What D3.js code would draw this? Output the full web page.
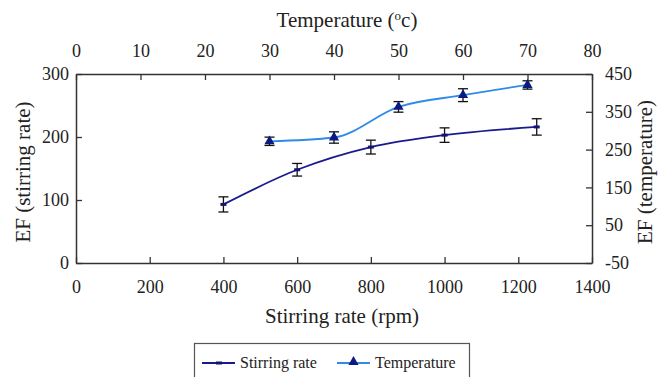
<!DOCTYPE html>
<html><head><meta charset="utf-8">
<script src="https://cdn.jsdelivr.net/npm/d3@7"></script>
<style>body{margin:0;background:#fff}svg{display:block}</style>
</head><body><svg id="c" width="661" height="377"></svg>
<script>
const stirRate = [400, 600, 800, 1000, 1250];
const stirEF = [93, 148, 184, 203, 216];
const stirErr = [12, 10, 11, 11.5, 13];
const temps = [30, 40, 50, 60, 70];
const tempEF = [272, 282, 363, 394, 421];
const tempErr = [11, 15, 14, 17, 11];
const bottomTicks = [0,200,400,600,800,1000,1200,1400];
const topTicks = [0,10,20,30,40,50,60,70,80];
const leftTicks = [0,100,200,300];
const rightTicks = [-50,50,150,250,350,450];

const FONT = "'Liberation Serif','Times New Roman','DejaVu Serif',serif";
const svg = d3.select("#c");
const L=76, R=592, T=74, B=263;
const x = d3.scaleLinear().domain([0,1400]).range([L,R]);
const xt = d3.scaleLinear().domain([0,80]).range([L,R]);
const y = d3.scaleLinear().domain([0,300]).range([B,T]);
const yr = d3.scaleLinear().domain([-50,450]).range([B,T]);
const fmt = d => String(d);

function styleAxis(g){
  g.attr("font-family", FONT).attr("font-size", 18);
  g.select(".domain").attr("stroke","#333").attr("stroke-width",1.5);
  g.selectAll(".tick line").attr("stroke","#333").attr("stroke-width",1.3);
  g.selectAll(".tick text").attr("font-family",FONT).attr("font-size",18).attr("fill","#222");
}
svg.append("g").attr("transform",`translate(0,${B})`)
  .call(d3.axisBottom(x).tickValues(bottomTicks).tickFormat(fmt).tickSizeInner(-6).tickSizeOuter(0).tickPadding(17)).call(styleAxis);
svg.append("g").attr("transform",`translate(0,${T})`)
  .call(d3.axisTop(xt).tickValues(topTicks).tickFormat(fmt).tickSizeInner(-6).tickSizeOuter(0).tickPadding(17)).call(styleAxis);
svg.append("g").attr("transform",`translate(${L},0)`)
  .call(d3.axisLeft(y).tickValues(leftTicks).tickFormat(fmt).tickSizeInner(-6).tickSizeOuter(0).tickPadding(7)).call(styleAxis);
svg.append("g").attr("transform",`translate(${R},0)`)
  .call(d3.axisRight(yr).tickValues(rightTicks).tickFormat(fmt).tickSizeInner(-6).tickSizeOuter(0).tickPadding(13)).call(styleAxis);

const stirData = stirRate.map((r,i)=>({x:x(r), y:y(stirEF[i])}));
const tempData = temps.map((t,i)=>({x:xt(t), y:yr(tempEF[i])}));
const line = d3.line().x(d=>d.x).y(d=>d.y).curve(d3.curveMonotoneX);
svg.append("path").attr("d",line(tempData)).attr("fill","none").attr("stroke","#2f8ae8").attr("stroke-width",1.8);
svg.append("path").attr("d",line(stirData)).attr("fill","none").attr("stroke","#1a1a8f").attr("stroke-width",1.8);

function errBars(data, vals, errs, sc){
  const g = svg.append("g").attr("stroke","#111").attr("stroke-width",1.3);
  data.forEach((d,i)=>{
    const y1 = sc(vals[i]+errs[i]), y2 = sc(vals[i]-errs[i]);
    g.append("line").attr("x1",d.x).attr("x2",d.x).attr("y1",y1).attr("y2",y2);
    g.append("line").attr("x1",d.x-5).attr("x2",d.x+5).attr("y1",y1).attr("y2",y1);
    g.append("line").attr("x1",d.x-5).attr("x2",d.x+5).attr("y1",y2).attr("y2",y2);
  });
}
errBars(stirData, stirEF, stirErr, y);
errBars(tempData, tempEF, tempErr, yr);

svg.append("g").selectAll("rect").data(stirData).join("rect")
  .attr("x",d=>d.x-3).attr("y",d=>d.y-1.5).attr("width",6).attr("height",3).attr("fill","#14146e");
const tri = d3.symbol().type(d3.symbolTriangle).size(45);
svg.append("g").selectAll("path").data(tempData).join("path")
  .attr("transform",d=>`translate(${d.x},${d.y})`).attr("d",tri).attr("fill","#0b1a80");

function txt(){ return svg.append("text").attr("font-family",FONT).attr("fill","#222"); }
const tt = txt().attr("x",347).attr("y",27).attr("text-anchor","middle").attr("font-size",21);
tt.append("tspan").text("Temperature (");
tt.append("tspan").text("o").attr("font-size",13).attr("dy",-7);
tt.append("tspan").text("c)").attr("dy",7);
txt().attr("x",342).attr("y",323).attr("text-anchor","middle").attr("font-size",21).text("Stirring rate (rpm)");
txt().attr("transform","translate(30,172) rotate(-90)").attr("text-anchor","middle").attr("font-size",21).text("EF (stirring rate)");
txt().attr("transform","translate(652,172) rotate(-90)").attr("text-anchor","middle").attr("font-size",21).text("EF (temperature)");

svg.append("rect").attr("x",194.5).attr("y",343.5).attr("width",275).attr("height",40).attr("fill","none").attr("stroke","#555").attr("stroke-width",1.2);
svg.append("line").attr("x1",202).attr("x2",235).attr("y1",363).attr("y2",363).attr("stroke","#1a1a8f").attr("stroke-width",1.8);
svg.append("rect").attr("x",216).attr("y",361.5).attr("width",6).attr("height",3).attr("fill","#14146e");
txt().attr("x",240).attr("y",368).attr("font-size",16).text("Stirring rate");
svg.append("line").attr("x1",337).attr("x2",370).attr("y1",363).attr("y2",363).attr("stroke","#2f8ae8").attr("stroke-width",1.8);
svg.append("path").attr("transform","translate(353.5,362)").attr("d",tri).attr("fill","#0b1a80");
txt().attr("x",375).attr("y",368).attr("font-size",16).text("Temperature");
</script></body></html>
